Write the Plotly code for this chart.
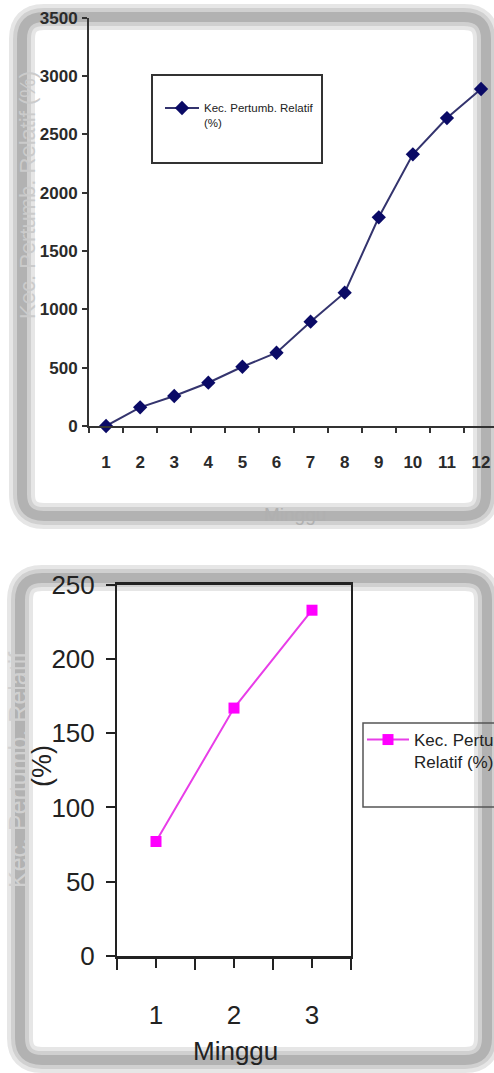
import plotly.graph_objects as go

# ---------------- data ----------------
weeks_a = [1, 2, 3, 4, 5, 6, 7, 8, 9, 10, 11, 12]
growth_a = [0, 160, 257, 371, 508, 628, 894, 1143, 1789, 2329, 2640, 2889]
yticks_a = [0, 500, 1000, 1500, 2000, 2500, 3000, 3500]

weeks_b = [1, 2, 3]
growth_b = [77, 167, 233]
yticks_b = [0, 50, 100, 150, 200, 250]

series_name_a = "Kec. Pertumb. Relatif<br>(%)"
series_name_b = "Kec. Pertumb.<br>Relatif (%)"
y_title = "Kec. Pertumb. Relatif (%)"
x_title = "Minggu"

# ---------------- layout helpers ----------------
W, H = 494, 1073
SANS = "Liberation Sans, Arial, sans-serif"


def px(x):
    return x / W


def py(y):
    return 1 - y / H


def rrect_path(x0, y0, x1, y1, r):
    X = lambda v: f"{px(v):.5f}"
    Y = lambda v: f"{py(v):.5f}"
    return (f"M {X(x0 + r)},{Y(y0)} L {X(x1 - r)},{Y(y0)} Q {X(x1)},{Y(y0)} {X(x1)},{Y(y0 + r)} "
            f"L {X(x1)},{Y(y1 - r)} Q {X(x1)},{Y(y1)} {X(x1 - r)},{Y(y1)} "
            f"L {X(x0 + r)},{Y(y1)} Q {X(x0)},{Y(y1)} {X(x0)},{Y(y1 - r)} "
            f"L {X(x0)},{Y(y0 + r)} Q {X(x0)},{Y(y0)} {X(x0 + r)},{Y(y0)} Z")


fig = go.Figure()

fig.add_trace(go.Scatter(
    x=weeks_a, y=growth_a, mode="lines+markers", name=series_name_a,
    line=dict(color="#34346e", width=2),
    marker=dict(symbol="diamond", size=11, color="#0a0a66"),
    xaxis="x", yaxis="y", legend="legend", cliponaxis=False,
))
fig.add_trace(go.Scatter(
    x=weeks_b, y=growth_b, mode="lines+markers", name=series_name_b,
    line=dict(color="#e83ee8", width=2),
    marker=dict(symbol="square", size=11, color="#ff00ff"),
    xaxis="x2", yaxis="y2", legend="legend2", cliponaxis=False,
))

axis_common = dict(showgrid=False, zeroline=False, showline=True, fixedrange=True,
                   automargin=False)

fig.update_layout(
    width=W, height=H,
    margin=dict(l=0, r=0, t=0, b=0, autoexpand=False),
    paper_bgcolor="white", plot_bgcolor="rgba(0,0,0,0)",
    xaxis=dict(
        **axis_common, domain=[px(89), 1.0], range=[0.5, 12.38],
        tickmode="array", tickvals=weeks_a, ticks="",
        minor=dict(tickvals=[w - 0.5 for w in weeks_a] + [12.5], ticks="outside",
                   ticklen=5, tickwidth=1.5, tickcolor="#333"),
        linecolor="#333", linewidth=2,
        tickfont=dict(family=SANS, size=17, color="#2a2a2a", weight="bold"),
        ticklabelstandoff=20, anchor="y",
    ),
    yaxis=dict(
        **axis_common, domain=[py(426), py(17.7)], range=[0, 3500],
        tickmode="array", tickvals=yticks_a, ticks="outside", ticklen=5,
        tickwidth=1.5, tickcolor="#333",
        linecolor="#333", linewidth=2,
        tickfont=dict(family=SANS, size=17, color="#2a2a2a", weight="bold"),
        ticklabelstandoff=1, anchor="x",
    ),
    xaxis2=dict(
        **axis_common, domain=[px(117), px(351)], range=[0.5, 3.5], mirror=True,
        tickmode="array", tickvals=weeks_b, ticks="outside", ticklen=10,
        tickwidth=1.5, tickcolor="#222",
        minor=dict(tickvals=[0.5, 1.5, 2.5, 3.5], ticks="outside", ticklen=12,
                   tickwidth=1.5, tickcolor="#222"),
        linecolor="#222", linewidth=2.5,
        tickfont=dict(family=SANS, size=26, color="#222"),
        ticklabelstandoff=24, anchor="y2",
    ),
    yaxis2=dict(
        **axis_common, domain=[py(955.7), py(585)], range=[0, 250], mirror=True,
        tickmode="array", tickvals=yticks_b, ticks="outside", ticklen=9,
        tickwidth=1.5, tickcolor="#222",
        linecolor="#222", linewidth=2,
        tickfont=dict(family=SANS, size=26, color="#222"),
        ticklabelstandoff=6, anchor="x2",
    ),
    legend=dict(
        x=px(160), y=py(94), xanchor="left", yanchor="top",
        bgcolor="rgba(0,0,0,0)", borderwidth=0, valign="top", itemwidth=34,
        font=dict(family=SANS, size=11.5, color="#222"),
    ),
    legend2=dict(
        x=px(362), y=py(722), xanchor="left", yanchor="top",
        bgcolor="rgba(0,0,0,0)", borderwidth=0, valign="top", itemwidth=42,
        font=dict(family=SANS, size=17, color="#222"),
    ),
    showlegend=True,
)

shapes = []
# blurred grey frames around both panels (drawn beneath the charts)
for (x0, y0, x1, y1) in [(22, 17, 486, 516), (20, 578, 487, 1060)]:
    for w, col in [(26, "#e6e6e6"), (18, "#d0d0d0"), (10, "#b2b2b2")]:
        shapes.append(dict(type="path", xref="paper", yref="paper",
                           path=rrect_path(x0, y0, x1, y1, 22),
                           line=dict(color=col, width=w), layer="below"))
# legend boxes
shapes.append(dict(type="rect", xref="paper", yref="paper",
                   x0=px(152), x1=px(322), y0=py(163), y1=py(75),
                   line=dict(color="#333", width=2), layer="above"))
shapes.append(dict(type="rect", xref="paper", yref="paper",
                   x0=px(363), x1=px(510), y0=py(807), y1=py(723),
                   line=dict(color="#555", width=1.5), layer="above"))
fig.update_layout(shapes=shapes)

annotations = [
    # top panel titles (faint)
    dict(text=y_title, x=px(28), y=py(195), textangle=-90, showarrow=False,
         xref="paper", yref="paper", xanchor="center", yanchor="middle",
         font=dict(family=SANS, size=22, color="#cbcbcb")),
    dict(text=x_title, x=px(295), y=py(514), showarrow=False,
         xref="paper", yref="paper", xanchor="center", yanchor="middle",
         font=dict(family=SANS, size=19, color="#b0b0b0")),
    # bottom panel titles
    dict(text="Kec. Pertumb. Relatif", x=px(18), y=py(770), textangle=-90, showarrow=False,
         xref="paper", yref="paper", xanchor="center", yanchor="middle",
         font=dict(family=SANS, size=25, color="#d0d0d0")),
    dict(text="(%)", x=px(42), y=py(766), textangle=-90, showarrow=False,
         xref="paper", yref="paper", xanchor="center", yanchor="middle",
         font=dict(family=SANS, size=27, color="#222")),
    dict(text=x_title, x=px(235), y=py(1051), showarrow=False,
         xref="paper", yref="paper", xanchor="center", yanchor="middle",
         font=dict(family=SANS, size=26, color="#222")),
]
fig.update_layout(annotations=annotations)

fig.write_html("out.html")
